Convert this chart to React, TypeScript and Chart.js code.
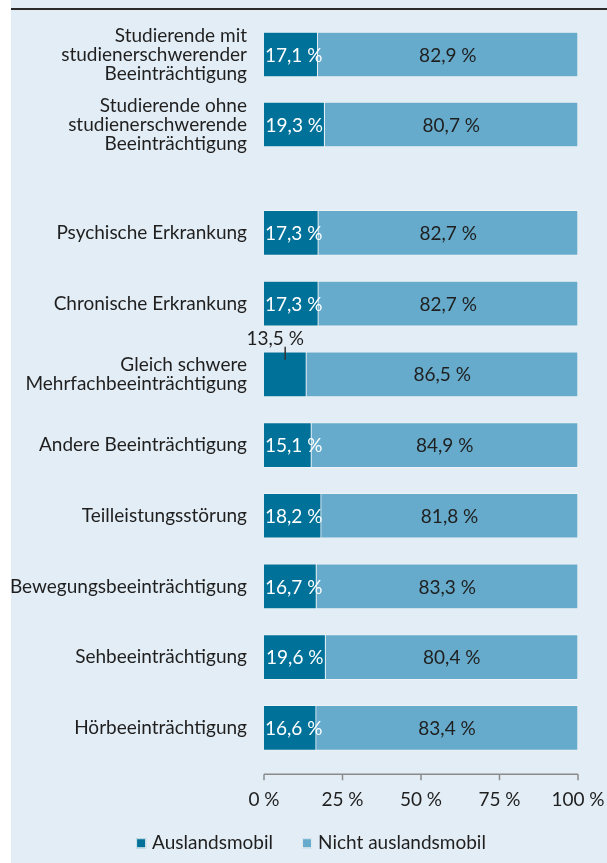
import React, { useEffect, useRef } from "react";
import { Chart, registerables } from "chart.js";
Chart.register(...registerables);

const FONT = "Lato, 'Noto Sans', sans-serif";
const FONT_SIZE = 19;
const TEXT = "#1f1f1f";
const BG = "#e3edf5";
const DARK = "#00729a";
const LIGHT = "#66abcc";

const seriesNames = ["Auslandsmobil", "Nicht auslandsmobil"];
const topCategories = [
  ["Studierende mit", "studienerschwerender", "Beeinträchtigung"],
  ["Studierende ohne", "studienerschwerende", "Beeinträchtigung"],
];
const topMobile = [17.1, 19.3];
const topNotMobile = [82.9, 80.7];
const groupCategories = [
  "Psychische Erkrankung",
  "Chronische Erkrankung",
  ["Gleich schwere", "Mehrfachbeeinträchtigung"],
  "Andere Beeinträchtigung",
  "Teilleistungsstörung",
  "Bewegungsbeeinträchtigung",
  "Sehbeeinträchtigung",
  "Hörbeeinträchtigung",
];
const groupMobile = [17.3, 17.3, 13.5, 15.1, 18.2, 16.7, 19.6, 16.6];
const groupNotMobile = [82.7, 82.7, 86.5, 84.9, 81.8, 83.3, 80.4, 83.4];
const xTicks = [0, 25, 50, 75, 100];

const fmt = (v: number) => v.toFixed(1).replace(".", ",") + " %";

const labelPlugin = {
  id: "valueLabels",
  afterDatasetsDraw(chart: any) {
    const ctx = chart.ctx;
    ctx.save();
    ctx.font = `${FONT_SIZE}px ${FONT}`;
    ctx.textAlign = "center";
    ctx.textBaseline = "middle";
    chart.data.datasets.forEach((ds: any, di: number) => {
      const meta = chart.getDatasetMeta(di);
      meta.data.forEach((bar: any, i: number) => {
        const v = ds.data[i] as number;
        const text = fmt(v);
        const p = bar.getProps(["x", "y", "base", "height"], true);
        const left = Math.min(p.x, p.base);
        const right = Math.max(p.x, p.base);
        const w = right - left;
        const tw = ctx.measureText(text).width;
        const cx = (left + right) / 2;
        if (di === 0 && tw > w + 11) {
          const top = p.y - p.height / 2;
          ctx.fillStyle = TEXT;
          ctx.fillText(text, cx - 10, top - 13);
          ctx.strokeStyle = "#333";
          ctx.lineWidth = 1.5;
          ctx.beginPath();
          ctx.moveTo(cx, top - 5);
          ctx.lineTo(cx, top + 8);
          ctx.stroke();
        } else {
          ctx.fillStyle = di === 0 ? "#ffffff" : TEXT;
          const tx = di === 0 ? Math.max(cx, left + 1 + tw / 2) : cx;
          ctx.fillText(text, tx, p.y + 1);
        }
      });
    });
    ctx.restore();
  },
};

const axisPlugin = {
  id: "offsetAxis",
  afterDraw(chart: any) {
    const xs = chart.scales.x;
    const ctx = chart.ctx;
    const yLine = chart.chartArea.bottom + 11;
    ctx.save();
    ctx.strokeStyle = "#8a8a8a";
    ctx.lineWidth = 1.5;
    ctx.beginPath();
    ctx.moveTo(xs.getPixelForValue(xTicks[0]), yLine);
    ctx.lineTo(xs.getPixelForValue(xTicks[xTicks.length - 1]), yLine);
    xs.ticks.forEach((t: any) => {
      const px = xs.getPixelForValue(t.value);
      ctx.moveTo(px, yLine);
      ctx.lineTo(px, yLine + 6);
    });
    ctx.stroke();
    ctx.restore();
  },
};

const legendPlugin = {
  id: "bottomLegend",
  afterDraw(chart: any) {
    const ctx = chart.ctx;
    ctx.save();
    ctx.font = `${FONT_SIZE}px ${FONT}`;
    ctx.textBaseline = "middle";
    ctx.textAlign = "left";
    const box = 10;
    const boxGap = 6;
    const itemGap = 29;
    const items = chart.data.datasets.map((ds: any) => ({
      text: ds.label as string,
      color: ds.backgroundColor as string,
      w: ctx.measureText(ds.label).width,
    }));
    const total =
      items.reduce((s: number, it: any) => s + box + boxGap + it.w, 0) + itemGap * (items.length - 1);
    let x = chart.width / 2 + 2 - total / 2;
    const y = chart.chartArea.bottom + 80;
    items.forEach((it: any) => {
      ctx.fillStyle = it.color;
      ctx.fillRect(x, y - box / 2, box, box);
      ctx.strokeStyle = "rgba(240,243,245,0.9)";
      ctx.lineWidth = 1;
      ctx.strokeRect(x + 0.5, y - box / 2 + 0.5, box - 1, box - 1);
      x += box + boxGap;
      ctx.fillStyle = TEXT;
      ctx.fillText(it.text, x, y);
      x += it.w + itemGap;
    });
    ctx.restore();
  },
};

function makeDatasets(a: number[], b: number[]) {
  return [
    {
      label: seriesNames[0],
      data: a,
      backgroundColor: DARK,
      borderColor: "rgba(240,243,245,0.9)",
      borderWidth: 1,
      barThickness: 45,
    },
    {
      label: seriesNames[1],
      data: b,
      backgroundColor: LIGHT,
      borderColor: "rgba(240,243,245,0.9)",
      borderWidth: 1,
      barThickness: 45,
    },
  ];
}

function yAxis(width: number) {
  return {
    stacked: true,
    grid: { display: false, drawTicks: false },
    border: { display: false },
    ticks: {
      color: TEXT,
      font: { family: FONT, size: FONT_SIZE, lineHeight: 1.0 },
      padding: 17,
      autoSkip: false,
    },
    afterFit: (s: any) => {
      s.width = width;
      s.paddingTop = 0;
      s.paddingBottom = 0;
    },
  };
}

export default function App() {
  const topRef = useRef<HTMLCanvasElement>(null);
  const botRef = useRef<HTMLCanvasElement>(null);

  useEffect(() => {
    const top = new Chart(topRef.current!, {
      type: "bar",
      data: { labels: topCategories as any, datasets: makeDatasets(topMobile, topNotMobile) as any },
      options: {
        indexAxis: "y",
        animation: false,
        responsive: true,
        maintainAspectRatio: false,
        layout: { padding: { top: 9.5, bottom: 20.5, left: 0, right: 29 } },
        plugins: { legend: { display: false }, tooltip: { enabled: false } },
        scales: {
          x: { stacked: true, display: false, min: 0, max: 100 },
          y: yAxis(253) as any,
        },
      },
      plugins: [labelPlugin],
    });

    const bot = new Chart(botRef.current!, {
      type: "bar",
      data: { labels: groupCategories as any, datasets: makeDatasets(groupMobile, groupNotMobile) as any },
      options: {
        indexAxis: "y",
        animation: false,
        responsive: true,
        maintainAspectRatio: false,
        layout: { padding: { top: 17.6, bottom: 0, left: 0, right: 29 } },
        plugins: {
          legend: { display: false },
          tooltip: { enabled: false },
        },
        scales: {
          x: {
            stacked: true,
            min: 0,
            max: 100,
            grid: { display: false, drawTicks: false },
            border: { display: false },
            ticks: {
              color: TEXT,
              font: { family: FONT, size: FONT_SIZE },
              padding: 25,
              maxRotation: 0,
              callback: (v: any) => v + " %",
            },
            afterBuildTicks: (s: any) => {
              s.ticks = xTicks.map((v) => ({ value: v }));
            },
            afterFit: (s: any) => {
              s.height = 99.8;
              s.paddingLeft = 0;
              s.paddingRight = 0;
            },
          } as any,
          y: yAxis(253) as any,
        },
      },
      plugins: [labelPlugin, axisPlugin, legendPlugin],
    });

    return () => {
      top.destroy();
      bot.destroy();
    };
  }, []);

  return (
    <div
      style={{
        position: "absolute",
        left: 0,
        top: 0,
        width: 607,
        height: 863,
        overflow: "hidden",
        background: "#ffffff",
      }}
    >
      <div style={{ position: "absolute", left: 11, top: 0, width: 596, height: 863, background: BG }} />
      <div style={{ position: "absolute", left: 11, top: 8, width: 596, height: 2, background: "#2b2b2b" }} />
      <div style={{ position: "absolute", left: 11, top: 10, width: 596, height: 170 }}>
        <canvas ref={topRef} />
      </div>
      <div style={{ position: "absolute", left: 11, top: 180, width: 596, height: 683 }}>
        <canvas ref={botRef} />
      </div>
    </div>
  );
}
